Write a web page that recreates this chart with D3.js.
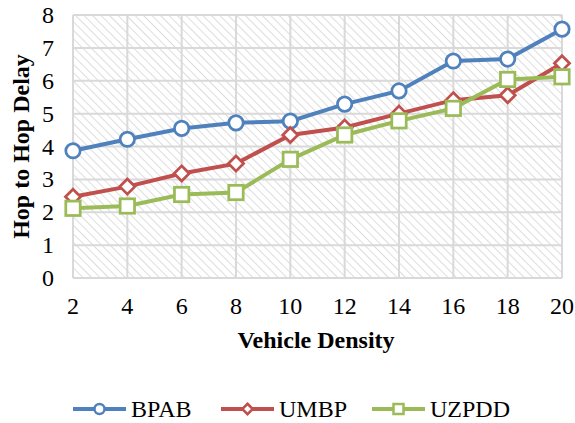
<!DOCTYPE html>
<html>
<head>
<meta charset="utf-8">
<script src="https://cdn.jsdelivr.net/npm/d3@7"></script>
<style>
  body { margin: 0; background: #fff; }
  text { font-family: "Liberation Serif", "Times New Roman", serif; }
</style>
</head>
<body>
<script>
// chart values
var density = [2, 4, 6, 8, 10, 12, 14, 16, 18, 20]
var bpab  = [3.87, 4.22, 4.55, 4.72, 4.77, 5.29, 5.69, 6.6, 6.66, 7.57]
var umbp  = [2.47, 2.78, 3.18, 3.48, 4.35, 4.58, 5.0, 5.41, 5.56, 6.53]
var uzpdd = [2.12, 2.19, 2.54, 2.6, 3.61, 4.35, 4.78, 5.16, 6.04, 6.12]
var yTicks = [0, 1, 2, 3, 4, 5, 6, 7, 8]
var seriesNames = ["BPAB", "UMBP", "UZPDD"]

var width = 575, height = 423
var plotL = 73, plotR = 562, plotT = 15, plotB = 278

var svg = d3.select("body").append("svg")
  .attr("width", width)
  .attr("height", height)

var x = d3.scaleLinear().domain([2, 20]).range([plotL, plotR])
var y = d3.scaleLinear().domain([0, 8]).range([plotB, plotT])

// hatched background
var defs = svg.append("defs")
var pat = defs.append("pattern")
  .attr("id", "hatch")
  .attr("patternUnits", "userSpaceOnUse")
  .attr("width", 6).attr("height", 6)
  .attr("patternTransform", "rotate(-45)")
pat.append("line")
  .attr("x1", 0).attr("y1", 0).attr("x2", 0).attr("y2", 6)
  .attr("stroke", "#d4d4d4").attr("stroke-width", 1.6)

svg.append("rect")
  .attr("x", plotL).attr("y", plotT)
  .attr("width", plotR - plotL).attr("height", plotB - plotT)
  .attr("fill", "url(#hatch)")

// grid
svg.append("g").selectAll("line").data(yTicks).enter().append("line")
  .attr("x1", plotL).attr("x2", plotR)
  .attr("y1", d => y(d)).attr("y2", d => y(d))
  .attr("stroke", "#d9d9d9").attr("stroke-width", 2)
svg.append("g").selectAll("line").data(density).enter().append("line")
  .attr("x1", d => x(d)).attr("x2", d => x(d))
  .attr("y1", plotT).attr("y2", plotB)
  .attr("stroke", "#d9d9d9").attr("stroke-width", 2)

// tick labels
svg.append("g").selectAll("text").data(yTicks).enter().append("text")
  .attr("x", 54).attr("y", d => y(d) + 8)
  .attr("text-anchor", "end")
  .attr("font-size", 24)
  .text(d => d)
svg.append("g").selectAll("text").data(density).enter().append("text")
  .attr("x", d => x(d)).attr("y", 314)
  .attr("text-anchor", "middle")
  .attr("font-size", 24)
  .text(d => d)

// axis titles
svg.append("text")
  .attr("x", 316).attr("y", 348)
  .attr("text-anchor", "middle")
  .attr("font-size", 24).attr("font-weight", "bold")
  .text("Vehicle Density")
svg.append("text")
  .attr("transform", "translate(29," + ((plotT + plotB) / 2) + ") rotate(-90)")
  .attr("text-anchor", "middle")
  .attr("font-size", 24).attr("font-weight", "bold")
  .text("Hop to Hop Delay")

var series = [
  { name: seriesNames[0], values: bpab, color: "#4f81bd", shape: "circle" },
  { name: seriesNames[1], values: umbp, color: "#c0504d", shape: "diamond" },
  { name: seriesNames[2], values: uzpdd, color: "#9bbb59", shape: "square" }
]

var line = d3.line().x((d, i) => x(density[i])).y(d => y(d))

function marker(g, shape, cx, cy, s, color, sw) {
  if (shape === "circle") {
    g.append("circle").attr("cx", cx).attr("cy", cy).attr("r", s)
      .attr("fill", "#fff").attr("stroke", color).attr("stroke-width", sw)
  } else if (shape === "diamond") {
    var r = s * 1.05
    g.append("path")
      .attr("d", "M" + cx + "," + (cy - r) + "L" + (cx + r) + "," + cy + "L" + cx + "," + (cy + r) + "L" + (cx - r) + "," + cy + "Z")
      .attr("fill", "#fff").attr("stroke", color).attr("stroke-width", sw)
  } else {
    g.append("rect").attr("x", cx - s).attr("y", cy - s)
      .attr("width", s * 2).attr("height", s * 2)
      .attr("fill", "#fff").attr("stroke", color).attr("stroke-width", sw)
  }
}

series.forEach(function (s) {
  svg.append("path").datum(s.values)
    .attr("d", line)
    .attr("fill", "none").attr("stroke", s.color).attr("stroke-width", 4)
  var g = svg.append("g")
  s.values.forEach(function (v, i) {
    marker(g, s.shape, x(density[i]), y(v), 7.2, s.color, 2.75)
  })
})

// legend
var legX = [73, 221, 372]
series.forEach(function (s, i) {
  var g = svg.append("g")
  g.append("line")
    .attr("x1", legX[i]).attr("x2", legX[i] + 53)
    .attr("y1", 409).attr("y2", 409)
    .attr("stroke", s.color).attr("stroke-width", 4)
  marker(g, s.shape, legX[i] + 26.5, 409, 5, s.color, 2.5)
  g.append("text")
    .attr("x", legX[i] + 58).attr("y", 417)
    .attr("font-size", 24)
    .text(s.name)
})
</script>
</body>
</html>
